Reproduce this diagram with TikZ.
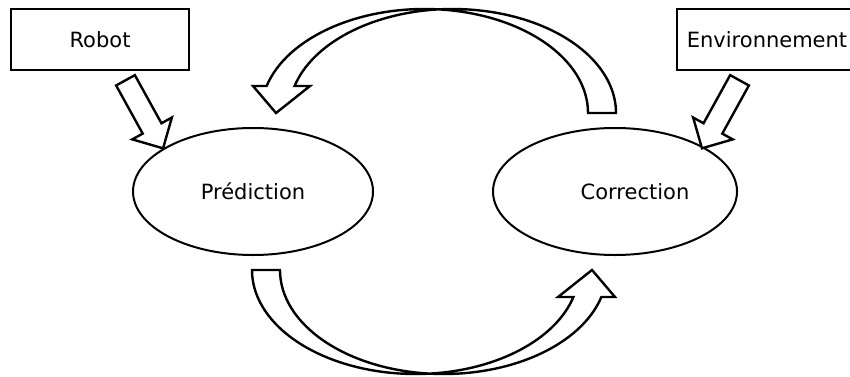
\documentclass[tikz,border=0pt]{standalone}
\usepackage{fontspec}
\setmainfont{DejaVu Sans}
\usetikzlibrary{shapes.geometric,calc}
\begin{document}
\begin{tikzpicture}[x=1pt,y=1pt,
  txt/.style={font=\fontsize{21}{25}\selectfont, text height=15pt, text depth=0pt},
  box/.style={draw, line width=2.6pt, minimum width=178pt, minimum height=61pt, inner sep=0pt, txt},
  oval/.style={ellipse, draw, line width=2pt, minimum width=240pt, minimum height=127pt, inner sep=0pt, txt},
  lbl/.style={inner sep=0pt, txt},
  blockarr/.style={draw, line width=2.4pt, line join=miter, fill=white},
  curvarr/.pic={
    \draw[blockarr] (252,106)
      arc[start angle=180, end angle=274.91, x radius=163.5, y radius=104]
      arc[start angle=265.09, end angle=344.95, x radius=163.5, y radius=104]
      -- (615,79) -- (592,106) -- (558,79) -- (573.4,79)
      arc[start angle=344.95, end angle=274.91, x radius=163.5, y radius=104]
      arc[start angle=265.09, end angle=180, x radius=163.5, y radius=104]
      -- cycle;
  }]
\useasboundingbox (0,0) rectangle (850,376);
\clip (0,0) rectangle (850,376);

\node[box] (robot) at (100,336.5) {Robot};
\node[box, minimum width=180pt] (env) at (767,336.5) {Environnement};
\node[oval] (pred) at (253,184.5) {Prédiction};
\node[oval, minimum width=244pt] (corr) at (615,184.5) {};
\node[lbl] (corrtext) at (635,184.5) {Correction};

% straight block arrows
\draw[blockarr, shift={($(robot.south)+(25.5,-9)$)}, rotate=-61.1]
  (0,-10.7) -- (55,-10.7) -- (55,-22.6) -- (77.7,0) -- (55,22.6) -- (55,10.7) -- (0,10.7) -- cycle;
\draw[blockarr, shift={($(env.south)+(-27.5,-9)$)}, rotate=-118.9]
  (0,-10.7) -- (55,-10.7) -- (55,-22.6) -- (77.7,0) -- (55,22.6) -- (55,10.7) -- (0,10.7) -- cycle;

% curved block arrows
\pic at (0,0) {curvarr};
\pic[rotate=180] at (868,369) {curvarr};
\end{tikzpicture}
\end{document}
